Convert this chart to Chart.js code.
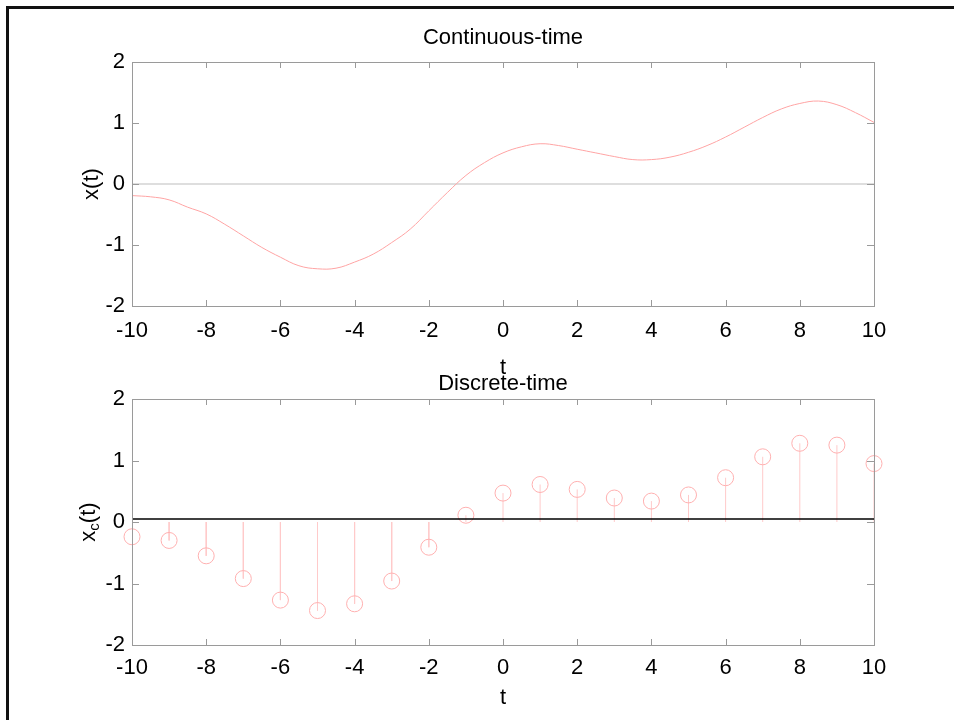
<!DOCTYPE html>
<html>
<head>
<meta charset="utf-8">
<script src="https://cdn.jsdelivr.net/npm/chart.js@4.4.1/dist/chart.umd.min.js"></script>
<style>
  html, body { margin: 0; padding: 0; background: #fff; overflow: hidden; }
  #frame { position: absolute; left: 6px; top: 6px; width: 948px; height: 714px;
           border-top: 3px solid #111; border-left: 3px solid #111; box-sizing: border-box; }
  canvas { position: absolute; left: 0; top: 0; }
</style>
</head>
<body>
<div id="frame"></div>
<canvas id="topChart" width="954" height="720"></canvas>
<canvas id="bottomChart" width="954" height="720"></canvas>
<script>
// continuous signal, every half unit
const tCont = [-10, -9.5, -9, -8.5, -8, -7.5, -7, -6.5, -6, -5.5, -5, -4.5, -4, -3.5, -3, -2.5, -2, -1.5, -1, -0.5,
               0, 0.5, 1, 1.5, 2, 2.5, 3, 3.5, 4, 4.5, 5, 5.5, 6, 6.5, 7, 7.5, 8, 8.5, 9, 9.5, 10];
const xCont = [-0.19, -0.21, -0.26, -0.38, -0.49, -0.66, -0.85, -1.04, -1.20, -1.34, -1.39, -1.38, -1.28, -1.15, -0.96, -0.74, -0.44, -0.14, 0.14, 0.35,
               0.51, 0.61, 0.66, 0.63, 0.57, 0.51, 0.45, 0.40, 0.40, 0.44, 0.52, 0.63, 0.77, 0.93, 1.09, 1.23, 1.32, 1.36, 1.30, 1.17, 1.01];

// samples for the stem plot
const tDisc = [-10, -9, -8, -7, -6, -5, -4, -3, -2, -1, 0, 1, 2, 3, 4, 5, 6, 7, 8, 9, 10];
const xDisc = [-0.24, -0.30, -0.55, -0.92, -1.27, -1.44, -1.33, -0.96, -0.41, 0.11, 0.47, 0.61, 0.53, 0.39, 0.34, 0.44, 0.72, 1.06, 1.28, 1.25, 0.95];

const xTickStep = 2;
const yTickStep = 1;
const tRange = [-10, 10];
const yRange = [-2, 2];
const baseTop = 0;
const baseBottom = 0.05;

Chart.defaults.font.family = '"Liberation Sans", Arial, Helvetica, sans-serif';
Chart.defaults.font.size = 22;
Chart.defaults.color = '#000';

// MATLAB style box with inward ticks
const boxTicks = {
  id: 'boxTicks',
  afterDraw(chart) {
    const { ctx, chartArea: a, scales: { x, y } } = chart;
    ctx.save();
    ctx.strokeStyle = '#9a9a9a';
    ctx.lineWidth = 1;
    ctx.strokeRect(a.left + 0.5, a.top + 0.5, a.right - a.left, a.bottom - a.top);
    ctx.beginPath();
    x.ticks.forEach(t => {
      const px = Math.round(x.getPixelForValue(t.value)) + 0.5;
      ctx.moveTo(px, a.bottom); ctx.lineTo(px, a.bottom - 6);
      ctx.moveTo(px, a.top); ctx.lineTo(px, a.top + 6);
    });
    y.ticks.forEach(t => {
      const py = Math.round(y.getPixelForValue(t.value)) + 0.5;
      ctx.moveTo(a.left, py); ctx.lineTo(a.left + 7, py);
      ctx.moveTo(a.right, py); ctx.lineTo(a.right - 7, py);
    });
    ctx.stroke();
    ctx.restore();
  }
};

// y label with subscript c, drawn beside the bottom axis
const subLabel = {
  id: 'subLabel',
  afterDraw(chart) {
    const { ctx, chartArea: a } = chart;
    const cy = (a.top + a.bottom) / 2;
    const f = Chart.defaults.font.family;
    ctx.save();
    ctx.translate(95, cy);
    ctx.rotate(-Math.PI / 2);
    ctx.fillStyle = '#000';
    ctx.textBaseline = 'alphabetic';
    ctx.font = '22px ' + f;
    const w1 = ctx.measureText('x').width;
    const w3 = ctx.measureText('(t)').width;
    ctx.font = '15px ' + f;
    const w2 = ctx.measureText('c').width;
    let sx = -(w1 + w2 + w3) / 2;
    ctx.font = '22px ' + f;
    ctx.fillText('x', sx, 0);
    sx += w1;
    ctx.font = '15px ' + f;
    ctx.fillText('c', sx, 4);
    sx += w2;
    ctx.font = '22px ' + f;
    ctx.fillText('(t)', sx, 0);
    ctx.restore();
  }
};

function axes(xPad, xTitlePad, yTitle) {
  return {
    x: {
      type: 'linear', min: tRange[0], max: tRange[1],
      grid: { display: false, drawTicks: false }, border: { display: false },
      ticks: { stepSize: xTickStep, padding: xPad, autoSkip: false, maxRotation: 0 },
      title: { display: true, text: 't', padding: { top: 0, bottom: xTitlePad } },
      afterFit(s) { s.height = 75; }
    },
    y: {
      type: 'linear', min: yRange[0], max: yRange[1],
      grid: { display: false, drawTicks: false }, border: { display: false },
      ticks: { stepSize: yTickStep, padding: 7 },
      title: { display: yTitle !== '', text: yTitle, padding: { top: 79, bottom: 0 } },
      afterFit(s) { s.width = 132; }
    }
  };
}

new Chart(document.getElementById('topChart'), {
  type: 'line',
  data: {
    datasets: [
      {
        data: tCont.map((t, i) => ({ x: t, y: xCont[i] })),
        borderColor: '#ffa4a4', borderWidth: 1, pointRadius: 0, tension: 0.4
      },
      {
        data: tRange.map(t => ({ x: t, y: baseTop })),
        borderColor: '#dedede', borderWidth: 2, pointRadius: 0
      }
    ]
  },
  options: {
    responsive: false, animation: false, devicePixelRatio: 1,
    layout: { padding: { left: 0, right: 80, top: 0, bottom: 339 } },
    plugins: {
      legend: { display: false }, tooltip: { enabled: false },
      title: { display: true, fullSize: false, text: 'Continuous-time', font: { size: 22, weight: 'normal' }, color: '#000',
               padding: { top: 24.5, bottom: 11.1 } }
    },
    scales: axes(11.5, 0, 'x(t)')
  },
  plugins: [boxTicks]
});

new Chart(document.getElementById('bottomChart'), {
  type: 'line',
  data: {
    datasets: [
      {
        data: tRange.map(t => ({ x: t, y: baseBottom })),
        borderColor: '#000', borderWidth: 1.5, pointRadius: 0
      },
      {
        data: tDisc.map((t, i) => ({ x: t, y: xDisc[i] })),
        showLine: false, pointRadius: 8, pointBorderWidth: 1,
        pointBorderColor: '#ffb0b0', pointBackgroundColor: 'rgba(0,0,0,0)', clip: false
      },
      {
        data: tDisc.flatMap((t, i) => [{ x: t, y: 0 }, { x: t, y: xDisc[i] }, { x: t, y: null }]),
        borderColor: '#ffcaca', borderWidth: 1, pointRadius: 0, spanGaps: false
      }
    ]
  },
  options: {
    responsive: false, animation: false, devicePixelRatio: 1,
    layout: { padding: { left: 0, right: 80, top: 0, bottom: 0 } },
    plugins: {
      legend: { display: false }, tooltip: { enabled: false },
      title: { display: true, fullSize: false, text: 'Discrete-time', font: { size: 22, weight: 'normal' }, color: '#000',
               padding: { top: 370.3, bottom: 2.3 } }
    },
    scales: axes(10, 9, '')
  },
  plugins: [boxTicks, subLabel]
});
</script>
</body>
</html>
